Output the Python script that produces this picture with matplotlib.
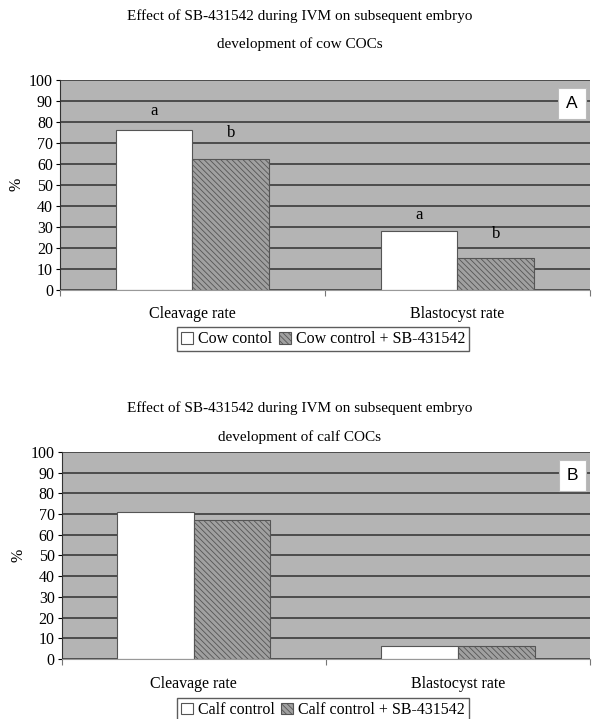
import matplotlib
matplotlib.use("Agg")
import matplotlib.pyplot as plt
import numpy as np

categories = ["Cleavage rate", "Blastocyst rate"]

# panel A: cow COCs
cow_control = [76, 28]
cow_sb = [62.5, 15]
cow_control_letters = ["a", "a"]
cow_sb_letters = ["b", "b"]
cow_control_letter_y = [85, 35.5]
cow_sb_letter_y = [74.5, 26.5]

# panel B: calf COCs
calf_control = [71, 6.5]
calf_sb = [67, 6.5]

yticks = list(range(0, 101, 10))

plt.rcParams["font.family"] = ["Liberation Serif", "DejaVu Serif"]
plt.rcParams["hatch.color"] = "#333333"
plt.rcParams["hatch.linewidth"] = 0.6

BG = "#b4b4b4"
GRID = "#444444"
W = 0.29
FS = 11.5


def draw_panel(ax, control, sb, labels, panel_letter, letters=None):
    x = np.arange(len(categories))
    ax.set_facecolor(BG)
    ax.set_axisbelow(True)
    ax.yaxis.grid(True, color=GRID, linewidth=1.3)
    ax.bar(x - W / 2, control, W, color="white", edgecolor="#555555", linewidth=0.8, label=labels[0])
    ax.bar(x + W / 2, sb, W, color="#a0a0a0", edgecolor="#555555", linewidth=0.8,
           hatch="\\\\\\\\\\\\", label=labels[1])
    if letters is not None:
        for i in range(len(categories)):
            ax.text(x[i] - W / 2, letters[2][i], letters[0][i], ha="center", va="center", fontsize=12)
            ax.text(x[i] + W / 2, letters[3][i], letters[1][i], ha="center", va="center", fontsize=12)
    ax.set_xlim(-0.5, len(categories) - 0.5)
    ax.set_ylim(0, 100)
    ax.set_yticks(yticks)
    ax.tick_params(axis="y", labelsize=FS, length=3, width=0.8, pad=2)
    ax.set_xticks(np.arange(len(categories) + 1) - 0.5, minor=True)
    ax.set_xticks(x)
    ax.set_xticklabels(categories, fontsize=FS)
    ax.tick_params(axis="x", which="major", length=0, pad=12)
    ax.tick_params(axis="x", which="minor", length=4, width=0.8, color="#777777")
    for s in ["top", "right"]:
        ax.spines[s].set_visible(False)
    ax.spines["left"].set_color("#333333")
    ax.spines["bottom"].set_color("#999999")
    ax.set_ylabel("%", fontsize=FS, labelpad=3)
    ax.text(0.966, 0.886, panel_letter, transform=ax.transAxes, ha="center", va="center",
            fontsize=12.5, family="Liberation Sans",
            bbox=dict(boxstyle="square,pad=0.45", facecolor="white", edgecolor="#bbbbbb", linewidth=0.8))


def add_legend(ax, y):
    ax.legend(loc="center", bbox_to_anchor=(0.545, y), bbox_transform=fig.transFigure, ncol=2,
              fontsize=FS, frameon=True, fancybox=False, edgecolor="#333333", handlelength=0.75,
              handleheight=0.75, handletextpad=0.3, columnspacing=0.4, borderpad=0.25, borderaxespad=0)


fig = plt.figure(figsize=(5.93, 7.19), dpi=100)

ax1 = fig.add_axes([0.101, 0.597, 0.894, 0.292])
draw_panel(ax1, cow_control, cow_sb, ["Cow contol", "Cow control + SB-431542"], "A",
           letters=(cow_control_letters, cow_sb_letters, cow_control_letter_y, cow_sb_letter_y))
fig.text(0.505, 0.977, "Effect of SB-431542 during IVM on subsequent embryo", ha="center", va="center", fontsize=11)
fig.text(0.505, 0.939, "development of cow COCs", ha="center", va="center", fontsize=11)
add_legend(ax1, 0.528)

ax2 = fig.add_axes([0.104, 0.0834, 0.891, 0.288])
draw_panel(ax2, calf_control, calf_sb, ["Calf control", "Calf control + SB-431542"], "B")
fig.text(0.505, 0.4325, "Effect of SB-431542 during IVM on subsequent embryo", ha="center", va="center", fontsize=11)
fig.text(0.505, 0.392, "development of calf COCs", ha="center", va="center", fontsize=11)
add_legend(ax2, 0.0125)

fig.savefig("out.png", dpi=100)
